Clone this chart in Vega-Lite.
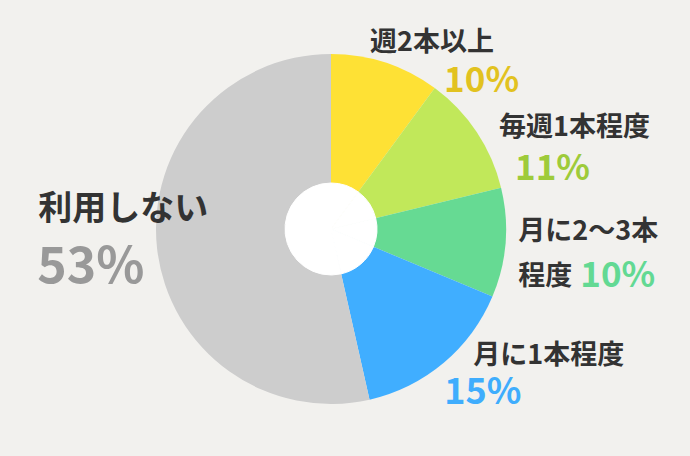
{
  "$schema": "https://vega.github.io/schema/vega-lite/v6.json",
  "description": "ビール類の購入頻度 (donut)",
  "width": 662,
  "height": 456,
  "autosize": "none",
  "padding": {"left": 0, "top": 1, "right": 28, "bottom": 0},
  "background": "#f2f1ee",
  "data": {
    "values": [
      {"cat": "週2本以上", "label": "週2本以上", "value": 10, "pct": "10%", "rank": 1},
      {"cat": "毎週1本程度", "label": "毎週1本程度", "value": 11, "pct": "11%", "rank": 2},
      {"cat": "月に2〜3本程度", "label": "月に2〜3本\n程度", "value": 10, "pct": "10%", "rank": 3},
      {"cat": "月に1本程度", "label": "月に1本程度", "value": 15, "pct": "15%", "rank": 4},
      {"cat": "利用しない", "label": "利用しない", "value": 53, "pct": "53%", "rank": 5}
    ]
  },
  "encoding": {
    "theta": {"field": "value", "type": "quantitative", "stack": true},
    "order": {"field": "rank", "type": "quantitative"},
    "detail": {"field": "cat", "type": "nominal"}
  },
  "layer": [
    {
      "mark": {"type": "arc", "radius": 175, "innerRadius": 0},
      "encoding": {
        "color": {
          "field": "cat",
          "type": "nominal",
          "scale": {
            "domain": ["週2本以上", "毎週1本程度", "月に2〜3本程度", "月に1本程度", "利用しない"],
            "range": ["#fee135", "#c1e85a", "#66da93", "#40aeff", "#cdcdcd"]
          },
          "legend": null
        }
      }
    },
    {
      "mark": {"type": "arc", "radius": 46, "color": "#ffffff", "stroke": "#ffffff", "strokeWidth": 1}
    },
    {
      "mark": {"type": "text", "radius": 215, "align": "left", "baseline": "alphabetic", "dx": -28, "dy": 26, "fontSize": 27, "fontWeight": "bold", "color": "#333333", "font": "Noto Sans CJK JP"},
      "encoding": {"text": {"condition": {"test": "datum.rank == 1", "field": "label", "type": "nominal"}, "value": ""}}
    },
    {
      "mark": {"type": "text", "radius": 215, "align": "left", "baseline": "alphabetic", "dx": -11, "dy": 26, "fontSize": 27, "fontWeight": "bold", "color": "#333333", "font": "Noto Sans CJK JP"},
      "encoding": {"text": {"condition": {"test": "datum.rank == 2", "field": "label", "type": "nominal"}, "value": ""}}
    },
    {
      "mark": {"type": "text", "radius": 215, "align": "left", "baseline": "alphabetic", "dx": -27, "dy": -6, "lineBreak": "\n", "lineHeight": 45, "fontSize": 27, "fontWeight": "bold", "color": "#333333", "font": "Noto Sans CJK JP"},
      "encoding": {"text": {"condition": {"test": "datum.rank == 3", "field": "label", "type": "nominal"}, "value": ""}}
    },
    {
      "mark": {"type": "text", "radius": 215, "align": "left", "baseline": "alphabetic", "dx": 4, "dy": -30, "fontSize": 27, "fontWeight": "bold", "color": "#333333", "font": "Noto Sans CJK JP"},
      "encoding": {"text": {"condition": {"test": "datum.rank == 4", "field": "label", "type": "nominal"}, "value": ""}}
    },
    {
      "mark": {"type": "text", "radius": 215, "align": "left", "baseline": "alphabetic", "dx": -79, "dy": -33, "fontSize": 34, "fontWeight": "bold", "color": "#333333", "font": "Noto Sans CJK JP"},
      "encoding": {"text": {"condition": {"test": "datum.rank == 5", "field": "label", "type": "nominal"}, "value": ""}}
    },
    {
      "mark": {"type": "text", "radius": 215, "align": "left", "baseline": "alphabetic", "dx": 46, "dy": 67, "fontSize": 35, "fontWeight": "bold", "color": "#e2c21f", "font": "Noto Sans CJK JP"},
      "encoding": {"text": {"condition": {"test": "datum.rank == 1", "field": "pct", "type": "nominal"}, "value": ""}}
    },
    {
      "mark": {"type": "text", "radius": 215, "align": "left", "baseline": "alphabetic", "dx": 5, "dy": 70, "fontSize": 35, "fontWeight": "bold", "color": "#9ecb3a", "font": "Noto Sans CJK JP"},
      "encoding": {"text": {"condition": {"test": "datum.rank == 2", "field": "pct", "type": "nominal"}, "value": ""}}
    },
    {
      "mark": {"type": "text", "radius": 215, "align": "left", "baseline": "alphabetic", "dx": 35, "dy": 41, "fontSize": 35, "fontWeight": "bold", "color": "#63d993", "font": "Noto Sans CJK JP"},
      "encoding": {"text": {"condition": {"test": "datum.rank == 3", "field": "pct", "type": "nominal"}, "value": ""}}
    },
    {
      "mark": {"type": "text", "radius": 215, "align": "left", "baseline": "alphabetic", "dx": -25, "dy": 10, "fontSize": 36, "fontWeight": "bold", "color": "#3fadfd", "font": "Noto Sans CJK JP"},
      "encoding": {"text": {"condition": {"test": "datum.rank == 4", "field": "pct", "type": "nominal"}, "value": ""}}
    },
    {
      "mark": {"type": "text", "radius": 215, "align": "left", "baseline": "alphabetic", "dx": -80, "dy": 30, "fontSize": 50, "fontWeight": "bold", "color": "#999999", "font": "Noto Sans CJK JP"},
      "encoding": {"text": {"condition": {"test": "datum.rank == 5", "field": "pct", "type": "nominal"}, "value": ""}}
    }
  ],
  "config": {
    "view": {"stroke": null}
  }
}
